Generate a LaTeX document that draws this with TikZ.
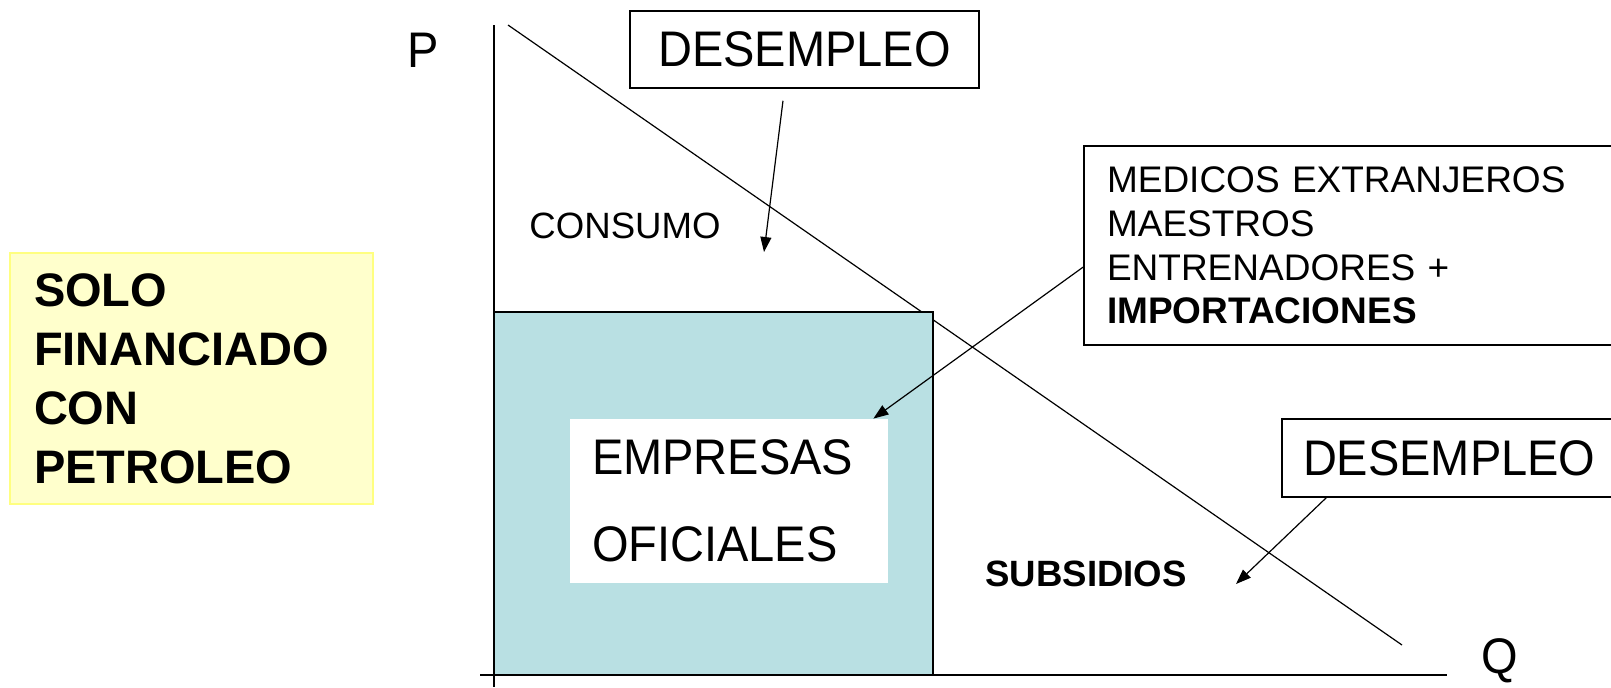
\documentclass[tikz,border=0pt]{standalone}
\usepackage{fontspec}
\setmainfont{Liberation Sans}
\newfontfamily\tallsans{Liberation Sans}[FakeStretch=0.94]
\usepackage{tikz}
\usetikzlibrary{arrows.meta, positioning, calc}
\definecolor{petroyellow}{RGB}{255,255,204}
\definecolor{petroborder}{RGB}{255,255,128}
\definecolor{oficialcyan}{RGB}{185,224,227}

\newcommand{\bigtxt}{\tallsans\fontsize{25pt}{28.5pt}\selectfont}
\newcommand{\midtxt}{\fontsize{18.5pt}{21.85pt}\selectfont}

\begin{document}
\begin{tikzpicture}[x=0.5pt, y=-0.5pt,
    every node/.style={font=\bigtxt},
    labelbox/.style={draw, line width=0.75pt, inner ysep=0pt, align=left},
    callout/.style={-{Triangle[length=7.5pt, width=5.5pt]}, line width=0.6pt}]
  \useasboundingbox (0,0) rectangle (1611,687);

  % Solo financiado con petroleo
  \node[fill=petroyellow, draw=petroborder, line width=0.6pt, minimum width=181.5pt,
        minimum height=125.5pt, text width=157.5pt, inner xsep=11.5pt, align=left,
        font=\fontsize{23.5pt}{29.5pt}\selectfont\bfseries] (solo) at (191.5,378.5)
        {SOLO\\FINANCIADO\\CON\\PETROLEO};

  % Demand line (under the box)
  \draw[line width=0.6pt] (508,25) -- (1402,645);

  % Empresas oficiales
  \draw[fill=oficialcyan, line width=0.8pt] (494,312) rectangle (933,675);
  \node[fill=white, minimum width=159pt, minimum height=82pt, text width=137pt,
        inner xsep=11pt, align=left, font=\tallsans\fontsize{25pt}{43.5pt}\selectfont]
        (empresas) at (729,501) {EMPRESAS\\OFICIALES};

  % Axes
  \draw[line width=0.8pt] (494,25) -- (494,687);
  \draw[line width=0.8pt] (480,675) -- (1447,675);
  \node (pAxis) at (423,50) {P};
  \node (qAxis) at (1500,661) {Q};

  % Areas
  \node[font=\fontsize{18.3pt}{22pt}\selectfont] (consumo) at (625,226) {CONSUMO};
  \node[font=\fontsize{18.3pt}{22pt}\selectfont\bfseries, anchor=west, inner sep=0pt]
        (subsidios) at (985,574) {SUBSIDIOS};

  % Boxes
  \node[labelbox, minimum width=174.5pt, minimum height=38.5pt] (desTop) at (804.5,49.5) {DESEMPLEO};
  \node[labelbox, minimum width=268pt, minimum height=99.5pt, text width=245pt,
        inner xsep=11.5pt, font=\midtxt] (medicos) at (1352,245.5)
        {MEDICOS EXTRANJEROS\\MAESTROS\\ENTRENADORES +\\\textbf{IMPORTACIONES}};
  \node[labelbox, minimum width=169pt, minimum height=39pt, text width=148pt,
        inner xsep=10.5pt] (desBottom) at (1451,458) {DESEMPLEO};

  % Arrows
  \coordinate (consumoTip) at (764,252);
  \coordinate (subsidiosTip) at (1236,584);
  \draw[callout] ([xshift=-10.75pt, yshift=-6pt]desTop.south) -- (consumoTip);
  \draw[callout] ([yshift=-10.75pt]medicos.west) -- ([xshift=-7.5pt]empresas.north east);
  \draw[callout] ([xshift=22.5pt]desBottom.south west) -- (subsidiosTip);
\end{tikzpicture}
\end{document}
